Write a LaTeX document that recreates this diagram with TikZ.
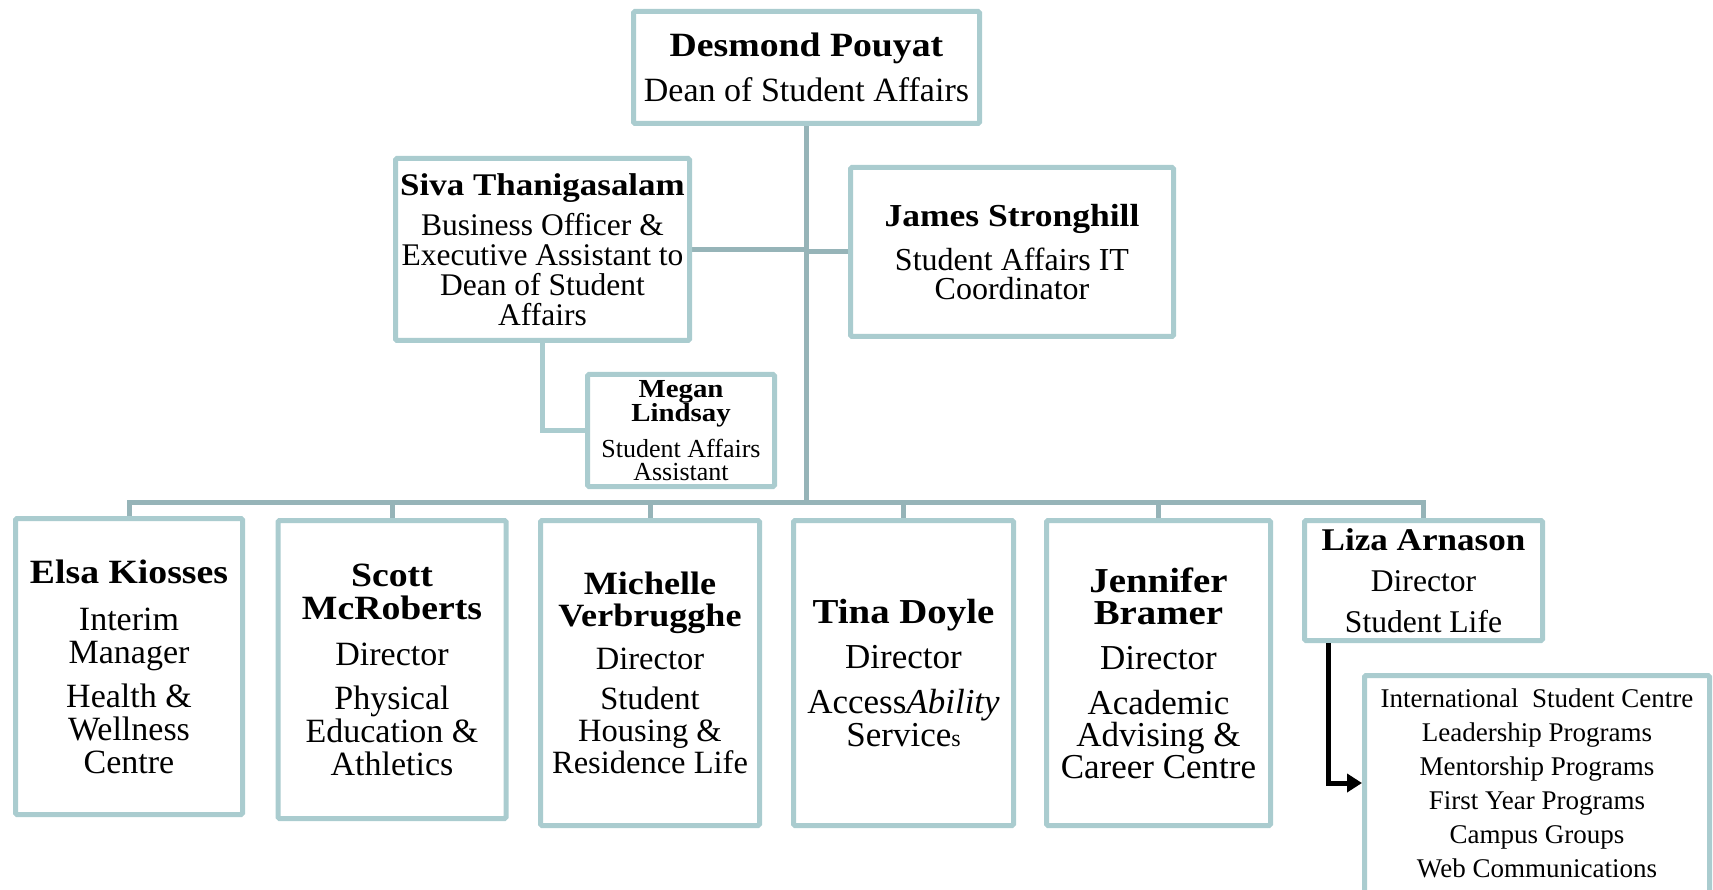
\documentclass[tikz,border=0pt]{standalone}
\usepackage{fontspec}
\setmainfont{Liberation Serif}[BoldFeatures={FakeStretch=1.11}]
\usetikzlibrary{arrows.meta,backgrounds}

\definecolor{boxline}{HTML}{AACCCF}
\definecolor{trunkline}{HTML}{96B4B8}

\newcommand{\fs}[2]{\fontsize{#1}{#2}\selectfont}

\tikzset{
	staff/.style={draw=boxline, line width=5pt, fill=white, rounded corners=1.5pt, align=center, inner sep=0pt},
	trunk/.style={draw=trunkline, line width=5pt},
	sublink/.style={draw=boxline, line width=5pt},
	feed/.style={draw=black, line width=5pt, -{Triangle[length=15pt,width=18pt]}}
}

\begin{document}
\begin{tikzpicture}[x=1pt, y=-1pt]

	\useasboundingbox (0,0) rectangle (1713,890);
	\clip (0,0) rectangle (1713,890);

	% top of the chart
	\node[staff, minimum width=346pt, minimum height=112pt, font=\fs{34}{34}] (dean) at (806.5,67.5)
		{\textbf{Desmond Pouyat}\\[11pt]Dean of Student Affairs};
	\node[staff, minimum width=294pt, minimum height=182pt, font=\fs{31.5}{30}] (siva) at (542.5,249.5)
		{\textbf{Siva Thanigasalam}\\[10pt]Business Officer \&\\Executive Assistant to\\Dean of Student\\Affairs};
	\node[staff, minimum width=323pt, minimum height=169pt, font=\fs{32}{29}] (james) at (1012,252)
		{\textbf{James Stronghill}\\[13pt]Student Affairs IT\\Coordinator};
	\node[staff, minimum width=187pt, minimum height=112pt, font=\fs{26}{23}] (megan) at (681,430.5)
		{\textbf{Megan}\\\textbf{Lindsay}\\[11pt]Student Affairs\\Assistant};

	% directors
	\node[staff, minimum width=227pt, minimum height=296pt, font=\fs{34}{33}] (elsa) at (129,666.5)
		{\textbf{Elsa Kiosses}\\[14pt]Interim\\Manager\\[11pt]Health \&\\Wellness\\Centre};
	\node[staff, minimum width=228pt, minimum height=298pt, font=\fs{34}{33}] (scott) at (392,669.5)
		{\textbf{Scott}\\\textbf{McRoberts}\\[13pt]Director\\[11pt]Physical\\Education \&\\Athletics};
	\node[staff, minimum width=219pt, minimum height=305pt, font=\fs{32.5}{32}] (michelle) at (650,673)
		{\textbf{Michelle}\\\textbf{Verbrugghe}\\[11pt]Director\\[8pt]Student\\Housing \&\\Residence Life};
	\node[staff, minimum width=220pt, minimum height=305pt, font=\fs{35}{33}] (tina) at (903.5,673)
		{\textbf{Tina Doyle}\\[12pt]Director\\[12pt]Access\textit{Ability}\\Service{\fs{24}{24}s}};
	\node[staff, minimum width=224pt, minimum height=305pt, font=\fs{35}{32}] (jennifer) at (1158.5,673)
		{\textbf{Jennifer}\\\textbf{Bramer}\\[13pt]Director\\[13pt]Academic\\Advising \&\\Career Centre};
	\node[staff, minimum width=238pt, minimum height=120pt, font=\fs{31.6}{41}] (liza) at (1423.5,580.5)
		{\textbf{Liza Arnason}\\Director\\Student Life};

	% student life programs, running off the page
	\node[staff, anchor=north west, minimum width=345pt, minimum height=240pt] (programs) at (1362,673) {};
	\node[align=center, inner sep=0pt, font=\fs{27}{34}] (programList) at (1537,783)
		{International\ \ Student Centre\\Leadership Programs\\Mentorship Programs\\First Year Programs\\Campus Groups\\Web Communications};

	\coordinate (hub) at (806.5,502);
	\coordinate (lizaOut) at (1328,643);

	\begin{scope}[on background layer]
		\draw[trunk] (dean.south) -- (hub);
		\draw[trunk] (siva.east) -- (siva.east -| hub);
		\draw[trunk] (james.west) -- (james.west -| hub);
		\draw[trunk] (elsa.north) |- (hub) -| (liza.north);
		\foreach \n in {scott,michelle,tina,jennifer}
			\draw[trunk] (\n.north) -- (\n.north |- hub);
		\draw[sublink] (siva.south) |- (megan.west);
	\end{scope}

	\draw[feed] (lizaOut) |- (programList.west -| programs.west);

\end{tikzpicture}
\end{document}
